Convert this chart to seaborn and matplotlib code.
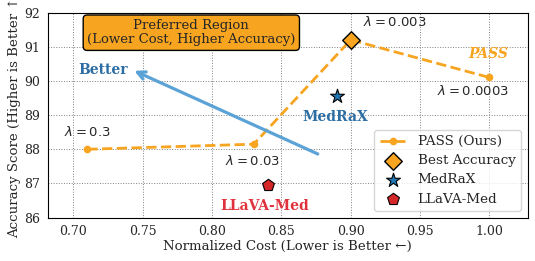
import matplotlib
matplotlib.use("Agg")
import matplotlib.pyplot as plt
import seaborn as sns
import pandas as pd

# Data
pass_cost = [0.71, 0.83, 0.90, 1.00]
pass_acc = [88.0, 88.15, 91.2, 90.1]
pass_lambdas = ["0.3", "0.03", "0.003", "0.0003"]
best_cost = [0.90]
best_acc = [91.2]
medrax_cost = [0.89]
medrax_acc = [89.55]
llava_cost = [0.84]
llava_acc = [86.95]

sns.set_style("white")
plt.rcParams['font.family'] = ['DejaVu Serif']
plt.rcParams['mathtext.fontset'] = 'dejavusans'

ORANGE = "#F7A520"
fig, ax = plt.subplots(figsize=(5.35, 2.61), dpi=100)

df = pd.DataFrame({"cost": pass_cost, "acc": pass_acc})
sns.lineplot(data=df, x="cost", y="acc", ax=ax, color=ORANGE, linestyle="--",
             linewidth=2, marker="o", markersize=5.5, markeredgewidth=0,
             label="PASS (Ours)", zorder=3)
sns.scatterplot(x=best_cost, y=best_acc, ax=ax, marker="D", s=80, color=ORANGE,
                edgecolor="black", linewidth=1, label="Best Accuracy", zorder=5)
sns.scatterplot(x=medrax_cost, y=medrax_acc, ax=ax, marker="*", s=110, color="#1f77b4",
                edgecolor="black", linewidth=0.8, label="MedRaX", zorder=5)
sns.scatterplot(x=llava_cost, y=llava_acc, ax=ax, marker="p", s=80, color="#d62728",
                edgecolor="black", linewidth=0.8, label="LLaVA-Med", zorder=5)

# lambda labels (positions in data coords)
lam_pos = [(0.71, 88.51), (0.829, 87.67), (0.932, 91.73), (0.988, 89.7)]
for lam, (tx, ty) in zip(pass_lambdas, lam_pos):
    ax.text(tx, ty, r"$\lambda = $" + lam, fontsize=9.5, ha="center", va="center",
            family="DejaVu Sans")

ax.text(0.9995, 90.79, "PASS", color=ORANGE, fontsize=10, fontweight="bold",
        fontstyle="italic", ha="center", va="center")
ax.text(0.889, 88.93, "MedRaX", color="#2c6ea4", fontsize=10, fontweight="bold",
        ha="center", va="center")
ax.text(0.838, 86.34, "LLaVA-Med", color="#e0323c", fontsize=10, fontweight="bold",
        ha="center", va="center")

# arrow
ax.annotate("", xy=(0.742, 90.33), xytext=(0.878, 87.83),
            arrowprops=dict(arrowstyle="->", color="#5ba3d6", lw=2.3, mutation_scale=14))
ax.text(0.7213, 90.32, "Better", color="#2c6ea4", fontsize=10, fontweight="bold",
        ha="center", va="center")

ax.text(0.785, 91.41, "Preferred Region\n(Lower Cost, Higher Accuracy)", fontsize=9.5,
        ha="center", va="center", linespacing=1.15,
        bbox=dict(boxstyle="round,pad=0.3", facecolor=ORANGE, edgecolor="black", lw=1))

ax.set_xlim(0.6816, 1.0275)
ax.set_ylim(86, 92)
ax.set_xticks([0.70, 0.75, 0.80, 0.85, 0.90, 0.95, 1.00])
ax.set_xticklabels(["0.70", "0.75", "0.80", "0.85", "0.90", "0.95", "1.00"])
ax.set_yticks([86, 87, 88, 89, 90, 91, 92])
ax.tick_params(labelsize=9, length=3, pad=2.5)
ax.grid(True, linestyle=":", color="gray", linewidth=0.7)
ax.set_xlabel("Normalized Cost (Lower is Better \u2190)", fontsize=9.6, labelpad=1)
ax.set_ylabel("Accuracy Score (Higher is Better \u2191)", fontsize=9.6, labelpad=2)
for s in ax.spines.values():
    s.set_color("black")
    s.set_linewidth(0.8)

ax.legend(loc="lower right", fontsize=9.7, frameon=True, handletextpad=0.8,
          borderpad=0.4, labelspacing=0.45)

fig.subplots_adjust(left=0.0897, right=0.986, top=0.952, bottom=0.166)
fig.savefig("out.png", dpi=100)
